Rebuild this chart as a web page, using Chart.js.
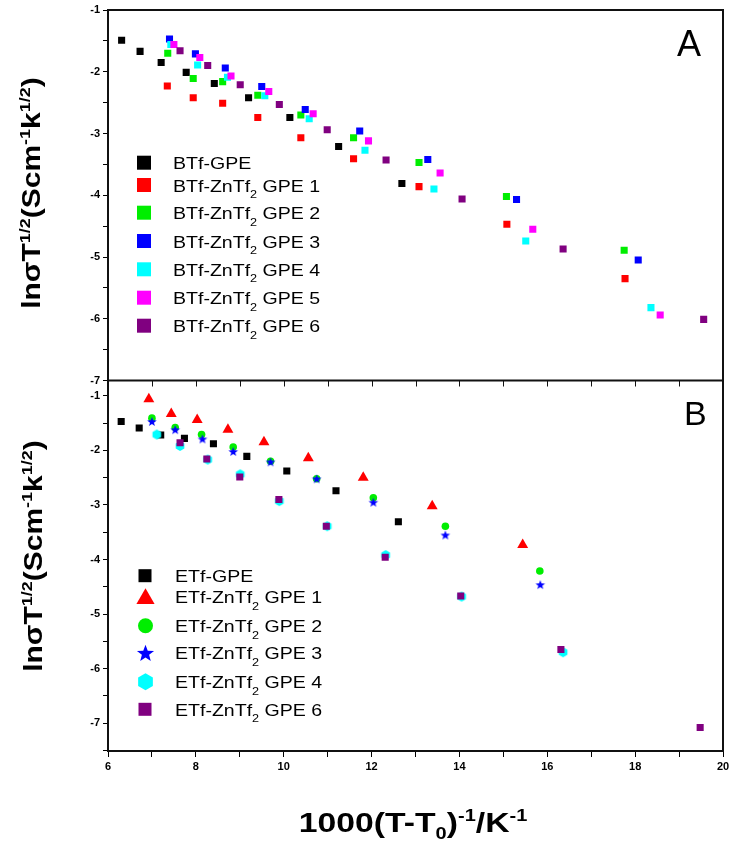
<!DOCTYPE html>
<html><head><meta charset="utf-8">
<script src="https://cdn.jsdelivr.net/npm/chart.js@4.4.0/dist/chart.umd.min.js"></script>
<style>html,body{margin:0;padding:0;background:#fff;}canvas{display:block;}</style>
</head><body>
<canvas id="c" width="738" height="846"></canvas>
<script>
// ---------- data ----------
const xTickValues = [6,7,8,9,10,11,12,13,14,15,16,17,18,19,20];

// Panel A
const namesA = ['BTf-GPE','BTf-ZnTf2 GPE 1','BTf-ZnTf2 GPE 2','BTf-ZnTf2 GPE 3','BTf-ZnTf2 GPE 4','BTf-ZnTf2 GPE 5','BTf-ZnTf2 GPE 6'];
const btfGpeX = [6.31,6.73,7.21,7.78,8.42,9.20,10.14,11.25,12.69];
const btfGpeY = [-1.49,-1.67,-1.85,-2.01,-2.19,-2.42,-2.74,-3.21,-3.81];
const btf1X = [7.35,7.94,8.61,9.41,10.39,11.59,13.08,15.08,17.77];
const btf1Y = [-2.23,-2.42,-2.51,-2.74,-3.07,-3.41,-3.86,-4.47,-5.35];
const btf2X = [7.36,7.94,8.61,9.41,10.39,11.59,13.08,15.07,17.75];
const btf2Y = [-1.70,-2.11,-2.16,-2.38,-2.70,-3.07,-3.47,-4.02,-4.89];
const btf3X = [7.40,7.99,8.67,9.50,10.49,11.73,13.28,15.30,18.07];
const btf3Y = [-1.47,-1.71,-1.94,-2.24,-2.61,-2.96,-3.42,-4.07,-5.05];
const btf4X = [7.43,8.04,8.72,9.57,10.58,11.85,13.42,15.51,18.36];
const btf4Y = [-1.56,-1.89,-2.09,-2.39,-2.76,-3.27,-3.90,-4.74,-5.82];
const btf5X = [7.50,8.09,8.80,9.66,10.67,11.93,13.56,15.67,18.57];
const btf5Y = [-1.56,-1.77,-2.07,-2.32,-2.68,-3.12,-3.64,-4.55,-5.94];
const btf6X = [7.64,8.27,9.01,9.90,10.99,12.33,14.06,16.36,19.56];
const btf6Y = [-1.66,-1.90,-2.21,-2.53,-2.94,-3.43,-4.06,-4.87,-6.01];

// Panel B
const namesB = ['ETf-GPE','ETf-ZnTf2 GPE 1','ETf-ZnTf2 GPE 2','ETf-ZnTf2 GPE 3','ETf-ZnTf2 GPE 4','ETf-ZnTf2 GPE 6'];
const etfGpeX = [6.30,6.71,7.20,7.74,8.40,9.16,10.07,11.19,12.61];
const etfGpeY = [-1.47,-1.59,-1.72,-1.78,-1.88,-2.11,-2.38,-2.74,-3.31];
const etf1X = [6.93,7.44,8.03,8.73,9.55,10.56,11.81,13.38,15.44];
const etf1Y = [-1.06,-1.33,-1.44,-1.62,-1.85,-2.14,-2.50,-3.02,-3.73];
const etf2X = [7.00,7.53,8.13,8.85,9.70,10.75,12.04,13.68,15.83];
const etf2Y = [-1.41,-1.58,-1.71,-1.94,-2.20,-2.52,-2.87,-3.39,-4.21];
const etf3X = [7.00,7.53,8.15,8.85,9.70,10.75,12.04,13.68,15.84];
const etf3Y = [-1.48,-1.63,-1.80,-2.03,-2.22,-2.53,-2.96,-3.56,-4.47];
const etf4X = [7.11,7.64,8.27,9.01,9.90,10.99,12.32,14.05,16.36];
const etf4Y = [-1.71,-1.92,-2.17,-2.44,-2.93,-3.39,-3.92,-4.68,-5.70];
const etf6X = [7.64,8.25,9.00,9.89,10.97,12.31,14.03,16.31,19.48];
const etf6Y = [-1.86,-2.16,-2.49,-2.90,-3.39,-3.96,-4.67,-5.65,-7.08];

// ---------- styling ----------
const colorsA = ['#000000','#ff0000','#00ee00','#0000ff','#00ffff','#ff00ff','#800080'];
const colorsB = ['#000000','#ff0000','#00ee00','#0000ff','#00ffff','#800080'];
const FONT = "'Liberation Sans', Arial, sans-serif";

function makeStar(r, color){
  const s = Math.ceil(r*2+2), c = document.createElement('canvas'); c.width = c.height = s;
  const g = c.getContext('2d'); g.fillStyle = color; g.beginPath();
  for (let i=0;i<10;i++){ const rr = i%2 ? r*0.42 : r; const a = -Math.PI/2 + i*Math.PI/5;
    g.lineTo(s/2 + rr*Math.cos(a), s/2 + rr*Math.sin(a)); }
  g.closePath(); g.fill(); return c;
}
function makeHex(r, color){
  const s = Math.ceil(r*2+2), c = document.createElement('canvas'); c.width = c.height = s;
  const g = c.getContext('2d'); g.fillStyle = color; g.beginPath();
  for (let i=0;i<6;i++){ const a = -Math.PI/2 + i*Math.PI/3; g.lineTo(s/2 + r*Math.cos(a), s/2 + r*Math.sin(a)); }
  g.closePath(); g.fill(); return c;
}
const starImg = makeStar(5, '#0000ff');
const hexImg = makeHex(5, '#00ffff');

function pts(xs, ys){ return xs.map((x,i)=>({x, y: ys[i]})); }
const seriesA = [[btfGpeX,btfGpeY],[btf1X,btf1Y],[btf2X,btf2Y],[btf3X,btf3Y],[btf4X,btf4Y],[btf5X,btf5Y],[btf6X,btf6Y]];
const seriesB = [[etfGpeX,etfGpeY],[etf1X,etf1Y],[etf2X,etf2Y],[etf3X,etf3Y],[etf4X,etf4Y],[etf6X,etf6Y]];
const stylesB = [
  {pointStyle:'rect', radius:5},
  {pointStyle:'triangle', radius:6.3},
  {pointStyle:'circle', radius:3.8},
  {pointStyle:starImg, radius:5},
  {pointStyle:hexImg, radius:5},
  {pointStyle:'rect', radius:5}
];

const datasets = [];
seriesA.forEach((s,i)=>datasets.push({
  label: namesA[i], data: pts(s[0], s[1]), yAxisID:'yA', order: -i,
  pointStyle:'rect', pointRadius:5, pointHoverRadius:5, pointBorderWidth:0,
  backgroundColor: colorsA[i], borderColor: colorsA[i], showLine:false
}));
seriesB.forEach((s,i)=>datasets.push({
  label: namesB[i], data: pts(s[0], s[1]), yAxisID:'yB', order: -i,
  pointStyle: stylesB[i].pointStyle, pointRadius: stylesB[i].radius, pointHoverRadius: stylesB[i].radius,
  pointBorderWidth:0, backgroundColor: colorsB[i], borderColor: colorsB[i], showLine:false
}));

// ---------- helpers for rich text ----------
function richWidth(ctx, parts){
  let w = 0; parts.forEach(p=>{ ctx.font = p.f; w += ctx.measureText(p.t).width; }); return w;
}
function drawRich(ctx, x, y, parts){
  let cx = x; parts.forEach(p=>{ ctx.font = p.f; ctx.fillText(p.t, cx, y + (p.dy||0)); cx += ctx.measureText(p.t).width; });
}
// draws rich text with a horizontal stretch factor, anchored at (x,y) left-baseline
function drawRichStretched(ctx, x, y, parts, sx){
  ctx.save(); ctx.translate(x, y); ctx.scale(sx, 1); drawRich(ctx, 0, 0, parts); ctx.restore();
}
function legendParts(name, size){
  const i = name.indexOf('ZnTf2');
  const f = size + 'px ' + FONT, fs = Math.round(size*0.62) + 'px ' + FONT;
  if (i < 0) return [{t:name, f}];
  return [{t:name.slice(0, i+4), f}, {t:'2', f:fs, dy: size*0.38}, {t:name.slice(i+5), f}];
}
function drawMarker(ctx, kind, x, y, color){
  ctx.fillStyle = color; ctx.beginPath();
  if (kind === 'rect') { ctx.rect(x-7, y-7, 14, 14); }
  else if (kind === 'triangle') { const r = 10.5; for (let k=0;k<3;k++){ const a = -Math.PI/2 + k*2*Math.PI/3; ctx.lineTo(x + r*Math.cos(a), y + 2 + r*Math.sin(a)); } ctx.closePath(); }
  else if (kind === 'circle') { ctx.arc(x, y, 7.5, 0, Math.PI*2); }
  else if (kind === 'star') { const r = 9; for (let k=0;k<10;k++){ const rr = k%2 ? r*0.42 : r; const a = -Math.PI/2 + k*Math.PI/5; ctx.lineTo(x + rr*Math.cos(a), y + 1 + rr*Math.sin(a)); } ctx.closePath(); }
  else if (kind === 'hex') { const r = 8.5; for (let k=0;k<6;k++){ const a = -Math.PI/2 + k*Math.PI/3; ctx.lineTo(x + r*Math.cos(a), y + r*Math.sin(a)); } ctx.closePath(); }
  ctx.fill();
}

const decorPlugin = {
  id:'decor',
  afterDraw(chart){
    const ctx = chart.ctx, ca = chart.chartArea, xs = chart.scales.x, yA = chart.scales.yA, yB = chart.scales.yB;
    ctx.save();
    // frame top & right
    ctx.strokeStyle = '#111'; ctx.lineWidth = 2;
    ctx.beginPath(); ctx.moveTo(ca.left, ca.top); ctx.lineTo(ca.right, ca.top); ctx.lineTo(ca.right, ca.bottom); ctx.stroke();
    // divider between the panels
    const divY = (yA.top < yB.top) ? yA.bottom : yB.bottom;
    ctx.beginPath(); ctx.moveTo(ca.left, divY); ctx.lineTo(ca.right, divY); ctx.stroke();
    ctx.lineWidth = 1;
    xTickValues.forEach(v=>{ const px = Math.round(xs.getPixelForValue(v)) + 0.5; ctx.beginPath(); ctx.moveTo(px, divY); ctx.lineTo(px, divY + 6); ctx.stroke(); });
    // legends
    ctx.textBaseline = 'alphabetic';
    const legYA = [162.7,185,212.7,241,269.3,297.7,325.7];
    namesA.forEach((n,i)=>{ drawMarker(ctx, 'rect', 144, legYA[i], colorsA[i]); ctx.fillStyle = '#000'; drawRichStretched(ctx, 173, legYA[i] + 6.5, legendParts(n, 17), 1.15); });
    const legYB = [575.7,596.7,625.7,652.7,681.7,709.3];
    const kindsB = ['rect','triangle','circle','star','hex','rect'];
    namesB.forEach((n,i)=>{
      if (kindsB[i]==='rect') { ctx.fillStyle = colorsB[i]; ctx.fillRect(138.5, legYB[i]-6.5, 13, 13); }
      else drawMarker(ctx, kindsB[i], 145.5, legYB[i], colorsB[i]);
      ctx.fillStyle = '#000'; drawRichStretched(ctx, 175, legYB[i] + 6.5, legendParts(n, 17), 1.15);
    });
    // panel letters
    ctx.font = '36px ' + FONT; ctx.fillText('A', 677, 56);
    ctx.font = '34px ' + FONT; ctx.fillText('B', 684, 425);
    // y titles
    const yParts = [
      {t:'ln\u03c3T', f:'bold 25px ' + FONT},
      {t:'1/2', f:'bold 15px ' + FONT, dy:-10},
      {t:'(Scm', f:'bold 25px ' + FONT},
      {t:'-1', f:'bold 15px ' + FONT, dy:-10},
      {t:'k', f:'bold 25px ' + FONT},
      {t:'1/2', f:'bold 15px ' + FONT, dy:-10},
      {t:')', f:'bold 25px ' + FONT}
    ];
    const ysx = 1.2;
    [[40, 193],[42, 556]].forEach(([cx, cy])=>{
      ctx.save(); ctx.translate(cx, cy); ctx.rotate(-Math.PI/2);
      const w = richWidth(ctx, yParts) * ysx; drawRichStretched(ctx, -w/2, 0, yParts, ysx); ctx.restore();
    });
    // x title
    const xParts = [
      {t:'1000(T-T', f:'bold 27px ' + FONT},
      {t:'0', f:'bold 16px ' + FONT, dy:7},
      {t:')', f:'bold 27px ' + FONT},
      {t:'-1', f:'bold 16px ' + FONT, dy:-11},
      {t:'/K', f:'bold 27px ' + FONT},
      {t:'-1', f:'bold 16px ' + FONT, dy:-11}
    ];
    const xsx = 1.25;
    const xw = richWidth(ctx, xParts) * xsx; drawRichStretched(ctx, 413 - xw/2, 832, xParts, xsx);
    ctx.restore();
  }
};

function keepHalf(axis){ axis.ticks = axis.ticks.filter(t => Math.abs(t.value*2 - Math.round(t.value*2)) < 1e-6); }
function yScale(min, max){
  return {
    type:'linear', position:'left', stack:'panels', stackWeight:1, min, max, offset:false,
    afterBuildTicks: keepHalf,
    ticks:{ stepSize:0.5, autoSkip:false, includeBounds:false, padding:3, color:'#000',
      font:{family:FONT, weight:'bold', size:11},
      callback:(v)=> Number.isInteger(v) ? String(v) : '' },
    grid:{ display:true, drawOnChartArea:false, drawTicks:true, tickLength:5, color:'#000', lineWidth:1 },
    border:{ display:true, color:'#111', width:2 },
    afterFit:(a)=>{ a.width = 108; }
  };
}

new Chart(document.getElementById('c'), {
  type:'scatter',
  data:{ datasets },
  options:{
    responsive:false, animation:false, devicePixelRatio:1,
    layout:{ padding:{ left:0, right:15, top:10, bottom:0 } },
    plugins:{ legend:{display:false}, tooltip:{enabled:false} },
    scales:{
      x:{ type:'linear', min:6, max:20, offset:false,
        afterBuildTicks:(a)=>{ a.ticks = xTickValues.map(v=>({value:v})); },
        ticks:{ autoSkip:false, maxRotation:0, padding:3, color:'#000',
          font:{family:FONT, weight:'bold', size:11},
          callback:(v)=> (v % 2 === 0) ? String(v) : '' },
        grid:{ display:true, drawOnChartArea:false, drawTicks:true, tickLength:6, color:'#000', lineWidth:1 },
        border:{ display:true, color:'#111', width:2 },
        afterFit:(a)=>{ a.height = 95; }
      },
      // defined bottom panel first: Chart.js places the later stacked left axis on top
      yB: yScale(-7.51, -0.72),
      yA: yScale(-7, -1)
    }
  },
  plugins:[decorPlugin]
});
</script>
</body></html>
